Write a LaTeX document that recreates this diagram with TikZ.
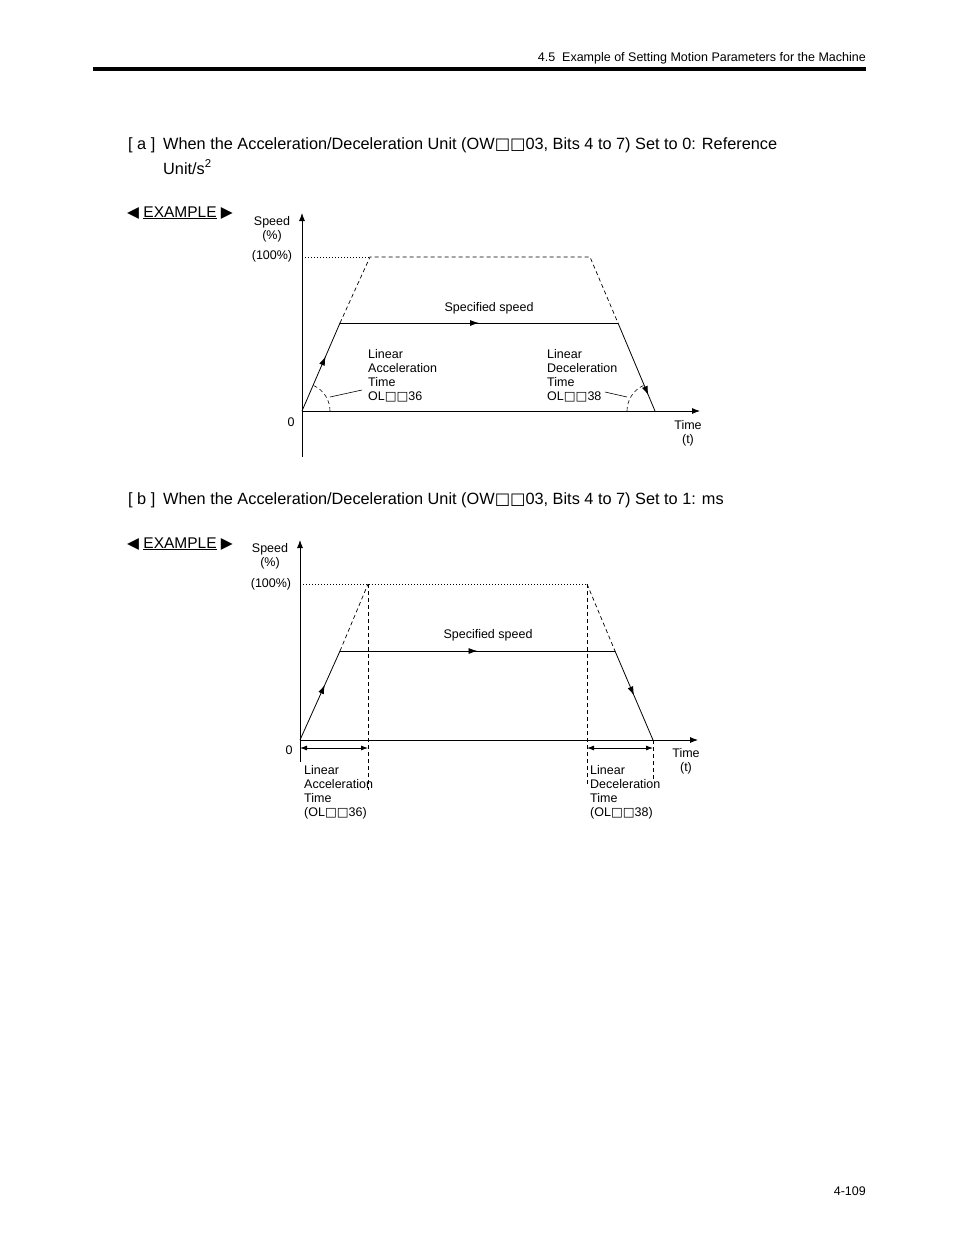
\documentclass[tikz,border=0pt]{standalone}
\usepackage{fontspec}
\setmainfont{Liberation Sans}
\newfontfamily\dvs{DejaVu Sans}
\usetikzlibrary{arrows.meta,decorations.markings}
\newcommand{\sqq}{{\dvs\char"25A1\char"25A1}}
\tikzset{
 lbl/.style={font=\fontsize{12.5}{14}\selectfont,inner sep=0pt,align=left},
 head/.style={font=\fontsize{16.3}{25}\selectfont,inner sep=0pt,anchor=base west},
 axis/.style={-{Latex[length=8pt,width=6pt]},line width=0.8pt},
 dsh/.style={dash pattern=on 4pt off 3pt,line width=0.7pt},
 dot/.style={dash pattern=on 1pt off 2pt,line width=0.7pt},
 ln/.style={line width=0.8pt},
 marr/.style={ln,postaction={decorate},decoration={markings,mark=at position #1 with {\arrow{Latex[length=9pt,width=6pt]}}}},
 darr/.style={{Latex[length=7pt,width=5pt]}-{Latex[length=7pt,width=5pt]},line width=0.8pt}
}
\begin{document}
\begin{tikzpicture}[x=1pt,y=-1pt]
\path[use as bounding box] (0,0) rectangle (954,1235);
\node[lbl,anchor=base east] (hdr) at (866,61) {4.5\ \ Example of Setting Motion Parameters for the Machine};
\draw[line width=4pt] (93,69) -- (866,69);
\node[lbl,anchor=base east] (pg) at (866,1195) {4-109};
% headings
\node[head] (ha) at (128,149) {[ a ]};
\node[head] (ta) at (163,149) {When the Acceleration/Deceleration Unit (OW\sqq 03, Bits 4 to 7) Set to 0: Reference};
\node[head] (ta2) at (163,174) {Unit/s\textsuperscript{2}};
\node[head] (hb) at (128,504) {[ b ]};
\node[head] (tb) at (163,504) {When the Acceleration/Deceleration Unit (OW\sqq 03, Bits 4 to 7) Set to 1: ms};
\node[head,font=\fontsize{15.5}{18}\selectfont] (ea) at (127,217) {{\dvs\char"25C0} \underline{EXAMPLE} {\dvs\char"25B6}};
\node[head,font=\fontsize{15.5}{18}\selectfont] (eb) at (127,548) {{\dvs\char"25C0} \underline{EXAMPLE} {\dvs\char"25B6}};
% ---------- diagram a
\coordinate (a0) at (302,411);
\coordinate (ay) at (302,213);
\coordinate (ab) at (302,457);
\coordinate (ax) at (700,411);
\coordinate (a1) at (340,323);
\coordinate (a2) at (618,323);
\coordinate (a3) at (655,411);
\coordinate (at1) at (370,257);
\coordinate (at2) at (590,257);
\coordinate (a100) at (302,257);
\draw[ln] (ab) -- (a0);
\draw[axis] (a0) -- (ay);
\draw[axis] (a0) -- (ax);
\draw[dot] (a100) -- (at1);
\draw[dsh] (a1) -- (at1) -- (at2) -- (a2);
\draw[marr=0.62] (a0) -- (a1);
\draw[marr=0.5] (a1) -- (a2);
\draw[marr=0.82] (a2) -- (a3);
\draw[dsh,line width=0.6pt] ([xshift=28pt]a0) arc (0:66:28pt);
\draw[dsh,line width=0.6pt] ([xshift=-28pt]a3) arc (180:114:28pt);
\coordinate (la1) at (330,397); \coordinate (la2) at (362,390);
\coordinate (ld1) at (605,392); \coordinate (ld2) at (627,397);
\draw[line width=0.6pt] (la1) -- (la2);
\draw[line width=0.6pt] (ld1) -- (ld2);
\node[lbl,align=center] (sa) at (272,229) {Speed\\(\%)};
\node[lbl] (pa) at (272,256) {(100\%)};
\node[lbl] (za) at (291,422) {0};
\node[lbl,align=center] (tia) at (688,433) {Time\\(t)};
\node[lbl] (ssa) at (489,308) {Specified speed};
\node[lbl,anchor=north west] (aca) at (368,349) {Linear\\Acceleration\\Time\\OL\sqq 36};
\node[lbl,anchor=north west] (dca) at (547,349) {Linear\\Deceleration\\Time\\OL\sqq 38};
% ---------- diagram b
\coordinate (b0) at (300,740);
\coordinate (by) at (300,540);
\coordinate (bb) at (300,762);
\coordinate (bx) at (698,740);
\coordinate (b1) at (340,651);
\coordinate (b2) at (615,651);
\coordinate (b3) at (653,740);
\coordinate (bt1) at (368,584);
\coordinate (bt2) at (587,584);
\coordinate (b100) at (300,584);
\draw[ln] (bb) -- (b0);
\draw[axis] (b0) -- (by);
\draw[axis] (b0) -- (bx);
\draw[dot] (b100) -- (bt1) -- (bt2);
\draw[dsh] (b1) -- (bt1);
\draw[dsh] (bt2) -- (b2);
\draw[dsh,line width=0.6pt] (bt1) -- (368,790);
\draw[dsh,line width=0.6pt] (bt2) -- (587,785);
\draw[dsh,line width=0.6pt] (b3) -- (653,780);
\draw[marr=0.62] (b0) -- (b1);
\draw[marr=0.5] (b1) -- (b2);
\draw[marr=0.5] (b2) -- (b3);
\coordinate (d1) at (300,748); \coordinate (d2) at (368,748);
\coordinate (d3) at (587,748); \coordinate (d4) at (653,748);
\draw[darr] (d1) -- (d2);
\draw[darr] (d3) -- (d4);
\node[lbl,align=center] (sb) at (270,556) {Speed\\(\%)};
\node[lbl] (pb) at (271,584) {(100\%)};
\node[lbl] (zb) at (289,750) {0};
\node[lbl,align=center] (tib) at (686,761) {Time\\(t)};
\node[lbl] (ssb) at (488,635) {Specified speed};
\node[lbl,anchor=north west] (acb) at (304,765) {Linear\\Acceleration\\Time\\(OL\sqq 36)};
\node[lbl,anchor=north west] (dcb) at (590,765) {Linear\\Deceleration\\Time\\(OL\sqq 38)};
\end{tikzpicture}
\end{document}
